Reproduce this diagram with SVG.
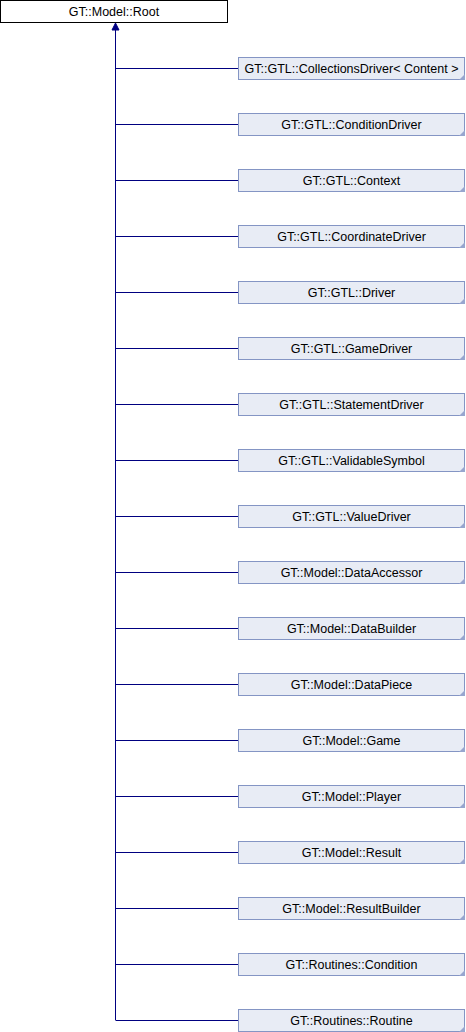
<svg xmlns="http://www.w3.org/2000/svg" width="466" height="1032" viewBox="0 0 466 1032">
<style>
.root{fill:#ffffff;stroke:#000000;stroke-width:1}
.box{fill:#e8ecf5;stroke:#8495c4;stroke-width:1}
.corner{fill:#98a6cf}
.lbl{font-family:"Liberation Sans",Arial,sans-serif;font-size:12.5px;fill:#000000;text-anchor:middle}
.edge{stroke:#000080;stroke-width:1;fill:none}
</style>
<g id="connectors">
<path class="edge" d="M115.5,23 V1020" />
<path d="M115.5,23 L112,30 L119,30 Z" fill="#000080" stroke="#000080" stroke-width="1"/>
<path class="edge" d="M115.5,68.5 H238"/>
<path class="edge" d="M115.5,124.5 H238"/>
<path class="edge" d="M115.5,180.5 H238"/>
<path class="edge" d="M115.5,236.5 H238"/>
<path class="edge" d="M115.5,292.5 H238"/>
<path class="edge" d="M115.5,348.5 H238"/>
<path class="edge" d="M115.5,404.5 H238"/>
<path class="edge" d="M115.5,460.5 H238"/>
<path class="edge" d="M115.5,516.5 H238"/>
<path class="edge" d="M115.5,572.5 H238"/>
<path class="edge" d="M115.5,628.5 H238"/>
<path class="edge" d="M115.5,684.5 H238"/>
<path class="edge" d="M115.5,740.5 H238"/>
<path class="edge" d="M115.5,796.5 H238"/>
<path class="edge" d="M115.5,852.5 H238"/>
<path class="edge" d="M115.5,908.5 H238"/>
<path class="edge" d="M115.5,964.5 H238"/>
<path class="edge" d="M115.5,1020.5 H238"/>
</g>
<g id="root">
<rect class="root" x="0.5" y="0.5" width="227" height="22"/>
<text class="lbl" x="114" y="16">GT::Model::Root</text>
</g>
<g id="n1" transform="translate(0,0)"><rect class="box" x="238.5" y="57.5" width="226" height="22"/><path class="corner" d="M465,74 V80 H459 Z"/><text class="lbl" x="351.5" y="73">GT::GTL::CollectionsDriver&lt; Content &gt;</text></g>
<g id="n2" transform="translate(0,56)"><rect class="box" x="238.5" y="57.5" width="226" height="22"/><path class="corner" d="M465,74 V80 H459 Z"/><text class="lbl" x="351.5" y="73">GT::GTL::ConditionDriver</text></g>
<g id="n3" transform="translate(0,112)"><rect class="box" x="238.5" y="57.5" width="226" height="22"/><path class="corner" d="M465,74 V80 H459 Z"/><text class="lbl" x="351.5" y="73">GT::GTL::Context</text></g>
<g id="n4" transform="translate(0,168)"><rect class="box" x="238.5" y="57.5" width="226" height="22"/><path class="corner" d="M465,74 V80 H459 Z"/><text class="lbl" x="351.5" y="73">GT::GTL::CoordinateDriver</text></g>
<g id="n5" transform="translate(0,224)"><rect class="box" x="238.5" y="57.5" width="226" height="22"/><path class="corner" d="M465,74 V80 H459 Z"/><text class="lbl" x="351.5" y="73">GT::GTL::Driver</text></g>
<g id="n6" transform="translate(0,280)"><rect class="box" x="238.5" y="57.5" width="226" height="22"/><path class="corner" d="M465,74 V80 H459 Z"/><text class="lbl" x="351.5" y="73">GT::GTL::GameDriver</text></g>
<g id="n7" transform="translate(0,336)"><rect class="box" x="238.5" y="57.5" width="226" height="22"/><path class="corner" d="M465,74 V80 H459 Z"/><text class="lbl" x="351.5" y="73">GT::GTL::StatementDriver</text></g>
<g id="n8" transform="translate(0,392)"><rect class="box" x="238.5" y="57.5" width="226" height="22"/><path class="corner" d="M465,74 V80 H459 Z"/><text class="lbl" x="351.5" y="73">GT::GTL::ValidableSymbol</text></g>
<g id="n9" transform="translate(0,448)"><rect class="box" x="238.5" y="57.5" width="226" height="22"/><path class="corner" d="M465,74 V80 H459 Z"/><text class="lbl" x="351.5" y="73">GT::GTL::ValueDriver</text></g>
<g id="n10" transform="translate(0,504)"><rect class="box" x="238.5" y="57.5" width="226" height="22"/><path class="corner" d="M465,74 V80 H459 Z"/><text class="lbl" x="351.5" y="73">GT::Model::DataAccessor</text></g>
<g id="n11" transform="translate(0,560)"><rect class="box" x="238.5" y="57.5" width="226" height="22"/><path class="corner" d="M465,74 V80 H459 Z"/><text class="lbl" x="351.5" y="73">GT::Model::DataBuilder</text></g>
<g id="n12" transform="translate(0,616)"><rect class="box" x="238.5" y="57.5" width="226" height="22"/><path class="corner" d="M465,74 V80 H459 Z"/><text class="lbl" x="351.5" y="73">GT::Model::DataPiece</text></g>
<g id="n13" transform="translate(0,672)"><rect class="box" x="238.5" y="57.5" width="226" height="22"/><path class="corner" d="M465,74 V80 H459 Z"/><text class="lbl" x="351.5" y="73">GT::Model::Game</text></g>
<g id="n14" transform="translate(0,728)"><rect class="box" x="238.5" y="57.5" width="226" height="22"/><path class="corner" d="M465,74 V80 H459 Z"/><text class="lbl" x="351.5" y="73">GT::Model::Player</text></g>
<g id="n15" transform="translate(0,784)"><rect class="box" x="238.5" y="57.5" width="226" height="22"/><path class="corner" d="M465,74 V80 H459 Z"/><text class="lbl" x="351.5" y="73">GT::Model::Result</text></g>
<g id="n16" transform="translate(0,840)"><rect class="box" x="238.5" y="57.5" width="226" height="22"/><path class="corner" d="M465,74 V80 H459 Z"/><text class="lbl" x="351.5" y="73">GT::Model::ResultBuilder</text></g>
<g id="n17" transform="translate(0,896)"><rect class="box" x="238.5" y="57.5" width="226" height="22"/><path class="corner" d="M465,74 V80 H459 Z"/><text class="lbl" x="351.5" y="73">GT::Routines::Condition</text></g>
<g id="n18" transform="translate(0,952)"><rect class="box" x="238.5" y="57.5" width="226" height="22"/><path class="corner" d="M465,74 V80 H459 Z"/><text class="lbl" x="351.5" y="73">GT::Routines::Routine</text></g>
</svg>
